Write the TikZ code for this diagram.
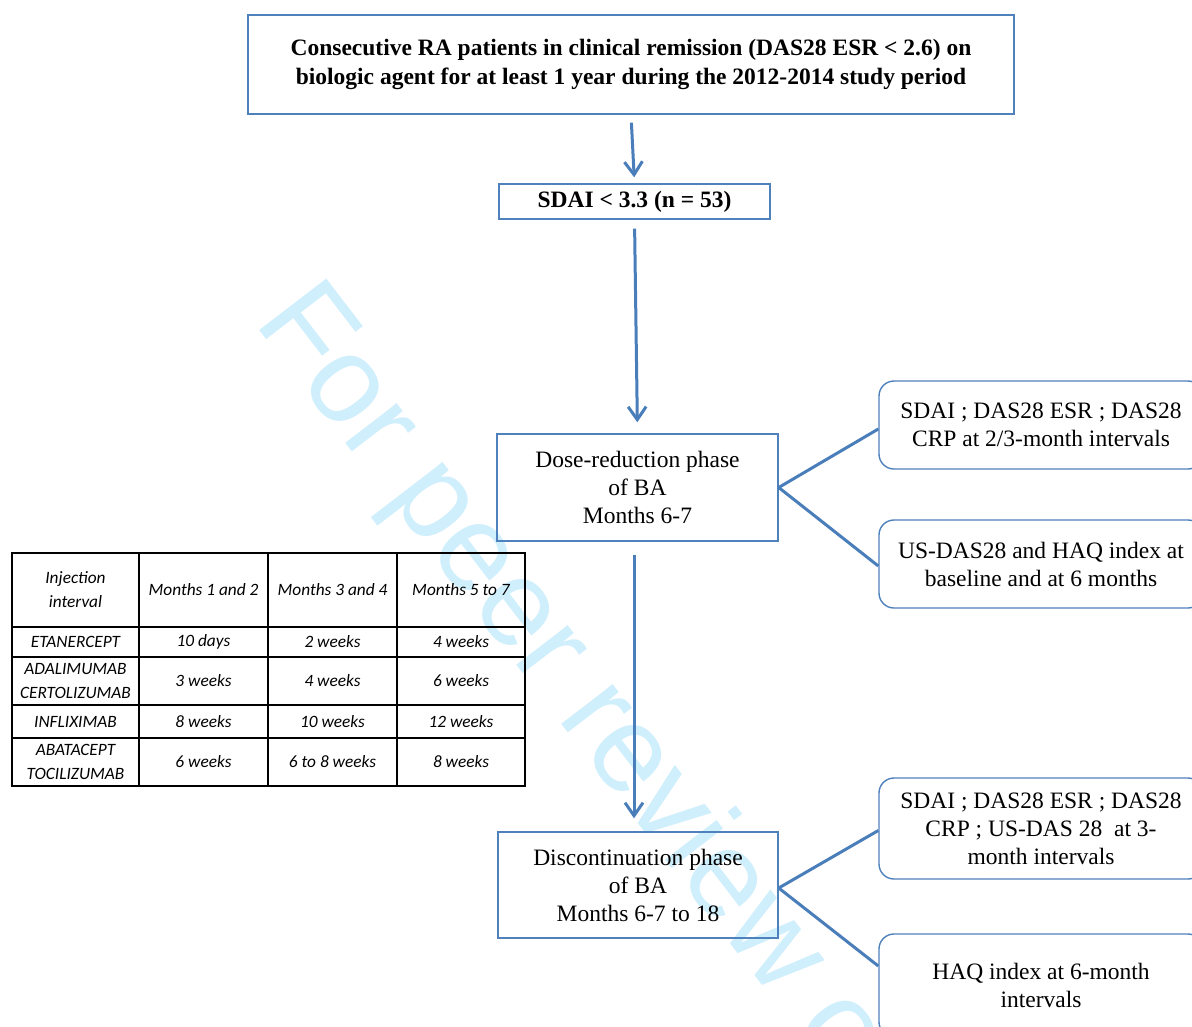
\documentclass[tikz,border=0pt]{standalone}
\usepackage{fontspec}
\setmainfont{Liberation Serif}
\newfontfamily\tabfont{Carlito}
\newfontfamily\wmfont{Liberation Sans}
\usetikzlibrary{arrows.meta,calc}
\definecolor{boxblue}{RGB}{79,129,189}
\definecolor{arrblue}{RGB}{74,126,187}
\definecolor{wmcyan}{RGB}{208,239,252}
\begin{document}
\begin{tikzpicture}[x=1pt,y=-1pt,
  bluebox/.style={draw=boxblue,line width=1.4pt,inner sep=0pt,align=center,
    font=\fontsize{23.5}{28}\selectfont},
  roundbox/.style={bluebox,rounded corners=15pt},
  arr/.style={draw=arrblue,line width=3pt,-{Straight Barb[length=13pt,width=18pt,line width=3pt]}},
  link/.style={draw=arrblue,line width=3pt},
  cell/.style={draw=black,line width=1.8pt,inner sep=0pt,align=center,
    font=\tabfont\itshape\fontsize{17.3}{24}\selectfont},
  wm/.style={text=wmcyan,inner sep=0pt,font=\wmfont\fontsize{123}{140}\selectfont}]
\useasboundingbox (0,0) rectangle (1192,1026);
\clip (0,0) rectangle (1192,1026);
\fill[white] (0,0) rectangle (1192,1026);

% watermark
\node[wm,rotate=-52.5,anchor=base west] (wmark) at (253,322) {For peer review only};

% main flow boxes
\node[bluebox,minimum width=766pt,minimum height=99pt] (top) at (631,64.5)
  {\textbf{Consecutive RA patients in clinical remission (DAS28 ESR < 2.6) on}\\[1pt]
   \textbf{biologic agent for at least 1 year during the 2012-2014 study period}};
\node[bluebox,minimum width=271pt,minimum height=35pt] (sdai) at (634.5,201.5)
  {\textbf{SDAI < 3.3 (n = 53)}};
\node[bluebox,minimum width=281pt,minimum height=107pt] (dose) at (637.5,487.5)
  {Dose-reduction phase\\of BA\\Months 6-7};
\node[bluebox,minimum width=280pt,minimum height=106pt] (disc) at (638,885)
  {Discontinuation phase\\of BA\\Months 6-7 to 18};

% right boxes
\node[roundbox,minimum width=324pt,minimum height=88pt] (r1) at (1041,425)
  {SDAI ; DAS28 ESR ; DAS28\\CRP at 2/3-month intervals};
\node[roundbox,minimum width=324pt,minimum height=88pt] (r2) at (1041,564)
  {US-DAS28 and HAQ index at\\baseline and at 6 months};
\node[roundbox,minimum width=324pt,minimum height=101pt] (r3) at (1041,828.5)
  {SDAI ; DAS28 ESR ; DAS28\\CRP ; US-DAS 28\ \ at 3-\\month intervals};
\node[roundbox,minimum width=324pt,minimum height=103pt] (r4) at (1041,985.5)
  {HAQ index at 6-month\\intervals};

% arrows
\draw[arr,shorten <=8pt,shorten >=6pt] (top.south) -- (sdai.north);
\draw[arr,shorten <=9pt,shorten >=11pt] (sdai.south) -- (dose.north);
\draw[arr,shorten <=13pt,shorten >=13pt] ([xshift=-3.5pt]dose.south) -- ([xshift=-4pt]disc.north);

% links
\draw[link] (dose.east) -- ([yshift=-4pt]r1.west);
\draw[link] (dose.east) -- ([yshift=-2pt]r2.west);
\draw[link] ([yshift=-3pt]disc.east) -- ([yshift=-2pt]r3.west);
\draw[link] ([yshift=-3pt]disc.east) -- ([yshift=19.5pt]r4.west);

% table
\node[cell,minimum width=127pt,minimum height=74pt] (h0) at (75.5,590) {Injection\\interval};
\node[cell,minimum width=129pt,minimum height=74pt] (h1) at (203.5,590) {Months 1 and 2};
\node[cell,minimum width=129pt,minimum height=74pt] (h2) at (332.5,590) {Months 3 and 4};
\node[cell,minimum width=128pt,minimum height=74pt] (h3) at (461,590) {Months 5 to 7};

\node[cell,minimum width=127pt,minimum height=30pt] (a0) at (75.5,642) {ETANERCEPT};
\node[cell,minimum width=129pt,minimum height=30pt] (a1) at (203.5,642) {10 days};
\node[cell,minimum width=129pt,minimum height=30pt] (a2) at (332.5,642) {2 weeks};
\node[cell,minimum width=128pt,minimum height=30pt] (a3) at (461,642) {4 weeks};

\node[cell,minimum width=127pt,minimum height=48pt] (b0) at (75.5,681) {ADALIMUMAB\\CERTOLIZUMAB};
\node[cell,minimum width=129pt,minimum height=48pt] (b1) at (203.5,681) {3 weeks};
\node[cell,minimum width=129pt,minimum height=48pt] (b2) at (332.5,681) {4 weeks};
\node[cell,minimum width=128pt,minimum height=48pt] (b3) at (461,681) {6 weeks};

\node[cell,minimum width=127pt,minimum height=33pt] (c0) at (75.5,721.5) {INFLIXIMAB};
\node[cell,minimum width=129pt,minimum height=33pt] (c1) at (203.5,721.5) {8 weeks};
\node[cell,minimum width=129pt,minimum height=33pt] (c2) at (332.5,721.5) {10 weeks};
\node[cell,minimum width=128pt,minimum height=33pt] (c3) at (461,721.5) {12 weeks};

\node[cell,minimum width=127pt,minimum height=48pt] (d0) at (75.5,762) {ABATACEPT\\TOCILIZUMAB};
\node[cell,minimum width=129pt,minimum height=48pt] (d1) at (203.5,762) {6 weeks};
\node[cell,minimum width=129pt,minimum height=48pt] (d2) at (332.5,762) {6 to 8 weeks};
\node[cell,minimum width=128pt,minimum height=48pt] (d3) at (461,762) {8 weeks};
\end{tikzpicture}
\end{document}
